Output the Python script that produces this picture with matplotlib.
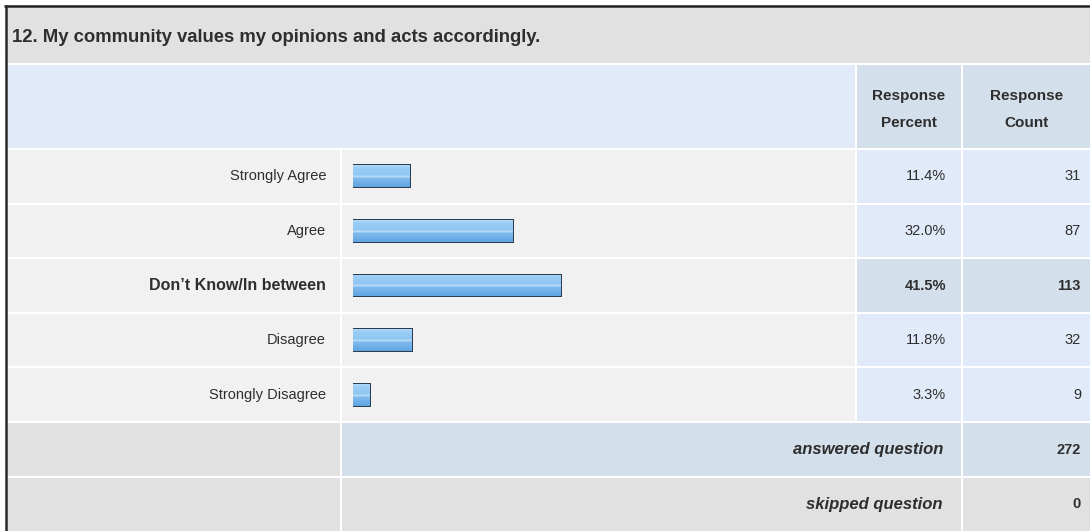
import numpy as np
import matplotlib
matplotlib.use("Agg")
import matplotlib.pyplot as plt
from matplotlib.patches import Rectangle
from matplotlib.colors import LinearSegmentedColormap

plt.rcParams['font.family'] = ['Liberation Sans', 'DejaVu Sans']

# data
title = "12. My community values my opinions and acts accordingly."
labels = ["Strongly Agree", "Agree", "Don\u2019t Know/In between", "Disagree", "Strongly Disagree"]
percents = [11.4, 32.0, 41.5, 11.8, 3.3]
counts = [31, 87, 113, 32, 9]
answered = 272
skipped = 0
highlight = 2

W, H = 1090, 531
fig = plt.figure(figsize=(W / 100, H / 100), dpi=100)
fig.patch.set_facecolor("white")

bg = fig.add_axes([0, 0, 1, 1])
bg.set_xlim(0, W)
bg.set_ylim(H, 0)
bg.axis("off")

GRAY = "#e1e1e1"
LIGHT = "#f1f1f1"
BLUE = "#e1eaf8"
BLUE2 = "#d3dfeb"
TXT = "#2e2e2e"

def cell(x0, x1, y0, y1, c):
    bg.add_patch(Rectangle((x0, y0), x1 - x0, y1 - y0, facecolor=c, edgecolor="none"))

# columns
c_lab = (7, 340)
c_bar = (342, 855)
c_pct = (857, 961)
c_cnt = (963, 1090)

# title + header
cell(7, W, 8, 63, GRAY)
cell(7, c_bar[1], 65, 148, BLUE)
cell(*c_pct, 65, 148, BLUE2)
cell(*c_cnt, 65, 148, BLUE2)
bg.text(12, 37, title, fontsize=13.3, fontweight="bold", color=TXT, va="center", ha="left")
for (x0, x1), word in [(c_pct, "Percent"), (c_cnt, "Count")]:
    bg.text((x0 + x1) / 2, 96, "Response", fontsize=11, fontweight="bold", color=TXT, ha="center", va="center")
    bg.text((x0 + x1) / 2, 123, word, fontsize=11, fontweight="bold", color=TXT, ha="center", va="center")

# data rows
row_top = 150
row_h = 54.6
for i, (lab, p, c) in enumerate(zip(labels, percents, counts)):
    y0 = row_top + i * row_h
    y1 = y0 + row_h - 2
    yc = (y0 + y1) / 2
    cell(*c_lab, y0, y1, LIGHT)
    cell(*c_bar, y0, y1, LIGHT)
    cc = BLUE2 if i == highlight else BLUE
    cell(*c_pct, y0, y1, cc)
    cell(*c_cnt, y0, y1, cc)
    bold = i == highlight
    fw = "bold" if bold else "normal"
    bg.text(326, yc, lab, fontsize=11.5 if bold else 10.5, fontweight=fw, color=TXT, ha="right", va="center")
    bg.text(946, yc, f"{p:.1f}%", fontsize=10.5, fontweight=fw, color=TXT, ha="right", va="center")
    bg.text(1081, yc, str(c), fontsize=10.5, fontweight=fw, color=TXT, ha="right", va="center")

# summary rows
ya0 = row_top + len(labels) * row_h
cell(*c_lab, ya0, ya0 + 53, GRAY)
cell(c_bar[0], c_pct[1], ya0, ya0 + 53, BLUE2)
cell(*c_cnt, ya0, ya0 + 53, BLUE2)
bg.text(943, ya0 + 26.5, "answered question", fontsize=12, fontweight="bold", style="italic",
        color=TXT, ha="right", va="center")
bg.text(1081, ya0 + 26.5, str(answered), fontsize=10.5, fontweight="bold", color=TXT, ha="right", va="center")
ys0 = ya0 + 55
cell(*c_lab, ys0, H, GRAY)
cell(c_bar[0], c_pct[1], ys0, H, GRAY)
cell(*c_cnt, ys0, H, GRAY)
bg.text(943, ys0 + 26.5, "skipped question", fontsize=12, fontweight="bold", style="italic",
        color=TXT, ha="right", va="center")
bg.text(1081, ys0 + 26.5, str(skipped), fontsize=10.5, fontweight="bold", color=TXT, ha="right", va="center")

# outer border
bg.plot([4, W], [6, 6], color="#1e1e1e", lw=1.8, solid_capstyle="butt")
bg.plot([5.5, 5.5], [5, H], color="#2a2a2a", lw=1.8, solid_capstyle="butt")

# bars
bx = fig.add_axes([353 / W, 1 - (row_top + 5 * row_h - 1) / H, 500 / W, (5 * row_h) / H])
bx.axis("off")
bars = bx.barh(range(len(labels)), percents, height=0.4, color="#8cc3f0",
               edgecolor="#27384c", linewidth=1.4)
grad = LinearSegmentedColormap.from_list("g", [(0, "#b4d9f7"), (0.12, "#9acdf5"), (0.45, "#8ec6f2"),
                                              (0.52, "#c2e0f8"), (0.6, "#7fbaee"), (1, "#5fa4e2")])
g = np.linspace(0, 1, 64).reshape(-1, 1)
for b in bars:
    x0, y0, w, h = b.get_x(), b.get_y(), b.get_width(), b.get_height()
    im = bx.imshow(g, cmap=grad, extent=(x0, x0 + w, y0 + h, y0), aspect="auto", zorder=1.5)
    im.set_clip_path(b)
bx.set_xlim(0, 100)
bx.set_ylim(len(labels) - 0.5, -0.5)

fig.savefig("out.png", dpi=100, facecolor=fig.get_facecolor())
